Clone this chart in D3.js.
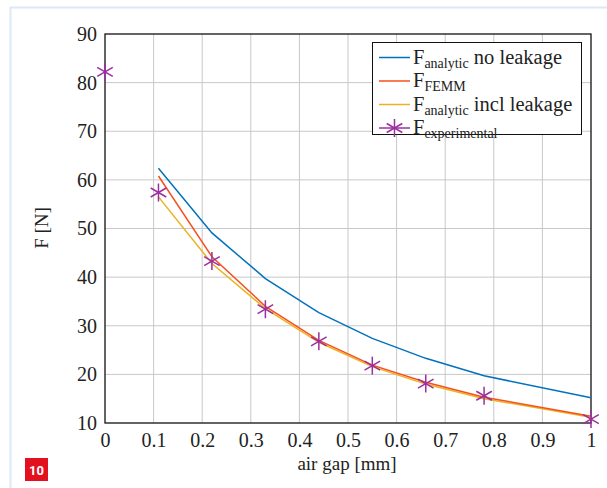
<!DOCTYPE html>
<html>
<head>
<meta charset="utf-8">
<script src="https://cdn.jsdelivr.net/npm/d3@7"></script>
<style>
  body { margin: 0; background: #fff; }
</style>
</head>
<body>
<div id="chart"></div>
<script>
// air gap [mm]
const gapSim = [0.11, 0.22, 0.33, 0.44, 0.55, 0.66, 0.78, 1.0];
const analyticNoLeak = [62.4, 49.1, 39.7, 32.7, 27.4, 23.3, 19.7, 15.2];
const femm = [60.8, 44.2, 34.0, 27.0, 21.9, 18.4, 15.3, 11.4];
const analyticLeak = [56.5, 42.8, 33.5, 26.6, 21.6, 18.0, 15.0, 11.2];

const gapExp = [0, 0.11, 0.22, 0.33, 0.44, 0.55, 0.66, 0.78, 1.0];
const experimental = [82.2, 57.4, 43.3, 33.4, 26.8, 21.8, 18.1, 15.6, 10.8];

const xTicks = [0, 0.1, 0.2, 0.3, 0.4, 0.5, 0.6, 0.7, 0.8, 0.9, 1];
const yTicks = [10, 20, 30, 40, 50, 60, 70, 80, 90];

const SERIF = "'Liberation Serif', 'Times New Roman', 'DejaVu Serif', serif";
const W = 607, H = 488;
const svg = d3.select("#chart").append("svg")
  .attr("width", W).attr("height", H);

// page frame
svg.append("path")
  .attr("d", "M10.5," + H + "V7.5H" + W)
  .attr("fill", "none").attr("stroke", "#dde8f8").attr("stroke-width", 2);

const x = d3.scaleLinear().domain([0, 1]).range([105, 591]);
const y = d3.scaleLinear().domain([10, 90]).range([423, 34]);

// grid
const grid = svg.append("g");
grid.selectAll(".gx").data(xTicks.slice(1, -1)).enter().append("line")
  .attr("x1", d => x(d)).attr("x2", d => x(d))
  .attr("y1", y(10)).attr("y2", y(90))
  .attr("stroke", "#c8c8c8").attr("stroke-width", 1);
grid.selectAll(".gy").data(yTicks.slice(1, -1)).enter().append("line")
  .attr("x1", x(0)).attr("x2", x(1))
  .attr("y1", d => y(d)).attr("y2", d => y(d))
  .attr("stroke", "#c8c8c8").attr("stroke-width", 1);

// axes
const xAxis = svg.append("g").attr("transform", "translate(0," + y(10) + ")")
  .call(d3.axisBottom(x).tickValues(xTicks).tickSize(0).tickPadding(7)
    .tickFormat(d => d3.format("")(d)));
const yAxis = svg.append("g").attr("transform", "translate(" + x(0) + ",0)")
  .call(d3.axisLeft(y).tickValues(yTicks).tickSize(0).tickPadding(8));
[xAxis, yAxis].forEach(a => {
  a.select(".domain").remove();
  a.style("font-family", SERIF).attr("font-size", 20);
  a.selectAll("text").style("font-family", SERIF).style("fill", "#222");
});
xAxis.selectAll("text").attr("dy", "0.85em");

svg.append("rect")
  .attr("x", x(0)).attr("y", y(90))
  .attr("width", x(1) - x(0)).attr("height", y(10) - y(90))
  .attr("fill", "none").attr("stroke", "#111").attr("stroke-width", 1.3);

// lines
const series = [
  { vals: analyticNoLeak, color: "#0072bd" },
  { vals: analyticLeak, color: "#edb120" },
  { vals: femm, color: "#f4511e" }
];
const line = d3.line().x(d => x(d[0])).y(d => y(d[1]));
series.forEach(s => {
  svg.append("path")
    .datum(gapSim.map((g, i) => [g, s.vals[i]]))
    .attr("d", line)
    .attr("fill", "none").attr("stroke", s.color).attr("stroke-width", 1.5);
});

// asterisk markers
const purple = "#9b2fa0";
function star(g, cx, cy, r) {
  for (let k = 0; k < 3; k++) {
    const a = Math.PI / 2 + k * Math.PI / 3;
    g.append("line")
      .attr("x1", cx - r * Math.cos(a)).attr("y1", cy - r * Math.sin(a))
      .attr("x2", cx + r * Math.cos(a)).attr("y2", cy + r * Math.sin(a))
      .attr("stroke", purple).attr("stroke-width", 1.5);
  }
}
const marks = svg.append("g");
gapExp.forEach((g, i) => star(marks, x(g), y(experimental[i]), 9));

// legend
const leg = svg.append("g");
leg.append("rect").attr("x", 372.5).attr("y", 42.5).attr("width", 209).attr("height", 92)
  .attr("fill", "#fff").attr("stroke", "#111").attr("stroke-width", 1);
const legItems = [
  { color: "#0072bd", sub: "analytic", rest: " no leakage" },
  { color: "#f4511e", sub: "FEMM", rest: "" },
  { color: "#edb120", sub: "analytic", rest: " incl leakage" },
  { color: purple, sub: "experimental", rest: "", star: true }
];
legItems.forEach((it, i) => {
  const cy = 57.5 + i * 23.5;
  leg.append("line").attr("x1", 379).attr("x2", 410).attr("y1", cy).attr("y2", cy)
    .attr("stroke", it.color).attr("stroke-width", 1.5);
  if (it.star) star(leg, 394.5, cy, 9);
  const t = leg.append("text").style("font-family", SERIF).style("fill", "#222")
    .attr("x", 413).attr("y", cy + 6).attr("font-size", 20.5);
  t.append("tspan").text("F");
  t.append("tspan").attr("font-size", 14).attr("dy", 4).text(it.sub);
  if (it.rest) t.append("tspan").attr("dy", -4).text(it.rest);
});

// axis labels
svg.append("text").style("font-family", SERIF).style("fill", "#222")
  .attr("x", 347).attr("y", 470)
  .attr("text-anchor", "middle").attr("font-size", 19).text("air gap [mm]");
svg.append("text").style("font-family", SERIF).style("fill", "#222")
  .attr("transform", "translate(48,228) rotate(-90)")
  .attr("text-anchor", "middle").attr("font-size", 19).text("F [N]");

// page badge
svg.append("rect").attr("x", 25).attr("y", 458).attr("width", 23).attr("height", 23)
  .attr("fill", "#e3101e");
svg.append("text").attr("x", 36.5).attr("y", 474.5).attr("text-anchor", "middle")
  .attr("font-family", "Roboto, 'DejaVu Sans', sans-serif").attr("font-weight", "bold")
  .attr("font-size", 13).style("fill", "#fff").text("10");
</script>
</body>
</html>
